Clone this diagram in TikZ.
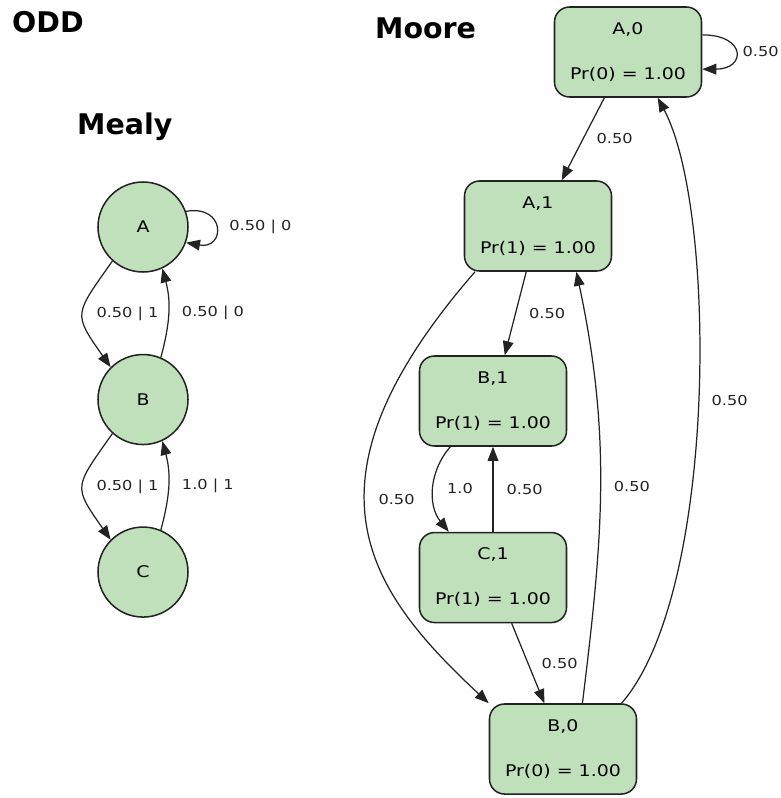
\documentclass[tikz,border=0pt]{standalone}
\usepackage{fontspec}
\setmainfont{DejaVu Sans}
\newfontfamily\statefont{DejaVu Sans}[FakeStretch=1.18]
\usetikzlibrary{arrows.meta,positioning}
\definecolor{stateGreen}{RGB}{192,224,187}
\definecolor{stateDark}{RGB}{35,35,35}

\begin{document}
\begin{tikzpicture}[
  x=0.03cm, y=-0.03cm,
  title/.style={
    anchor=base west,
    inner sep=0pt,
    font=\bfseries\fontsize{24.3}{29}\selectfont
  },
  mealy/.style={
    draw=stateDark,
    circle,
    fill=stateGreen,
    line width=1.3pt,
    minimum size=2.7cm,
    inner sep=0pt,
    font=\statefont\fontsize{13.7}{16}\selectfont
  },
  moore/.style={
    draw=stateDark,
    rounded corners=0.45cm,
    fill=stateGreen,
    line width=1.3pt,
    minimum width=4.41cm,
    minimum height=2.7cm,
    inner sep=0pt,
    align=center,
    font=\statefont\fontsize{13.7}{38.4}\selectfont
  },
  prob/.style={font=\statefont\fontsize{11.7}{14}\selectfont,inner sep=0pt,right=0.39cm},
  trans/.style={-{Triangle[length=0.42cm,width=0.32cm]},line width=1.05pt,stateDark}
]
  \useasboundingbox (0,0) rectangle (781,798);

  \node[title] (odd) at (12,32) {ODD};
  \node[title] (mealyTitle) at (77,134) {Mealy};
  \node[title] (mooreTitle) at (375,38) {Moore};

  % Mealy machine
  \node[mealy] (mA) at (143,227) {A};
  \node[mealy,below=2.43cm of mA] (mB) {B};
  \node[mealy,below=2.43cm of mB] (mC) {C};
  \draw[trans] (mA.20) to[out=10,in=-10,looseness=3.3] node[prob] {0.50 | 0} (mA.-20);
  \draw[trans] (mA.228) to[out=235,in=125,looseness=1.6] node[prob] {0.50 | 1} (mB.135);
  \draw[trans] (mB.67) to[out=75,in=-75] node[prob] {0.50 | 0} (mA.-65);
  \draw[trans] (mB.228) to[out=235,in=125,looseness=1.6] node[prob] {0.50 | 1} (mC.135);
  \draw[trans] (mC.67) to[out=75,in=-75] node[prob] {1.0 | 1} (mB.-65);

  % Moore machine
  \node[moore] (a0) at (628,52) {A,0\\Pr(0) = 1.00};
  \node[moore] (a1) at (538,226) {A,1\\Pr(1) = 1.00};
  \node[moore] (b1) at (493,401) {B,1\\Pr(1) = 1.00};
  \node[moore,below=2.55cm of b1] (c1) {C,1\\Pr(1) = 1.00};
  \node[moore] (b0) at (563,749) {B,0\\Pr(0) = 1.00};
  \draw[trans] (a0.13) to[out=0,in=0,looseness=3.3] node[prob,right=0.2cm] {0.50} (a0.-13);
  \draw[trans] (a0) -- node[prob] {0.50} (a1);
  \draw[trans] (a1) -- node[prob] {0.50} (b1);
  \draw[trans] (b1.227) to[bend right=40] node[prob] {1.0} (c1.134);
  \draw[trans] (c1) -- node[prob] {0.50} (b1);
  \draw[trans] (c1) -- node[prob] {0.50} (b0);
  \draw[trans] (a1.216) to[out=229,in=137,out distance=8.4cm,in distance=5cm] node[prob,pos=0.44] {0.50} (b0.north west);
  \draw[trans] (b0.67) to[out=83,in=-78] node[prob] {0.50} (a1.-50);
  \draw[trans] (b0.38) to[out=49,in=-62,out distance=4.4cm,in distance=3.8cm] node[prob] {0.50} (a0.-57);
\end{tikzpicture}
\end{document}
